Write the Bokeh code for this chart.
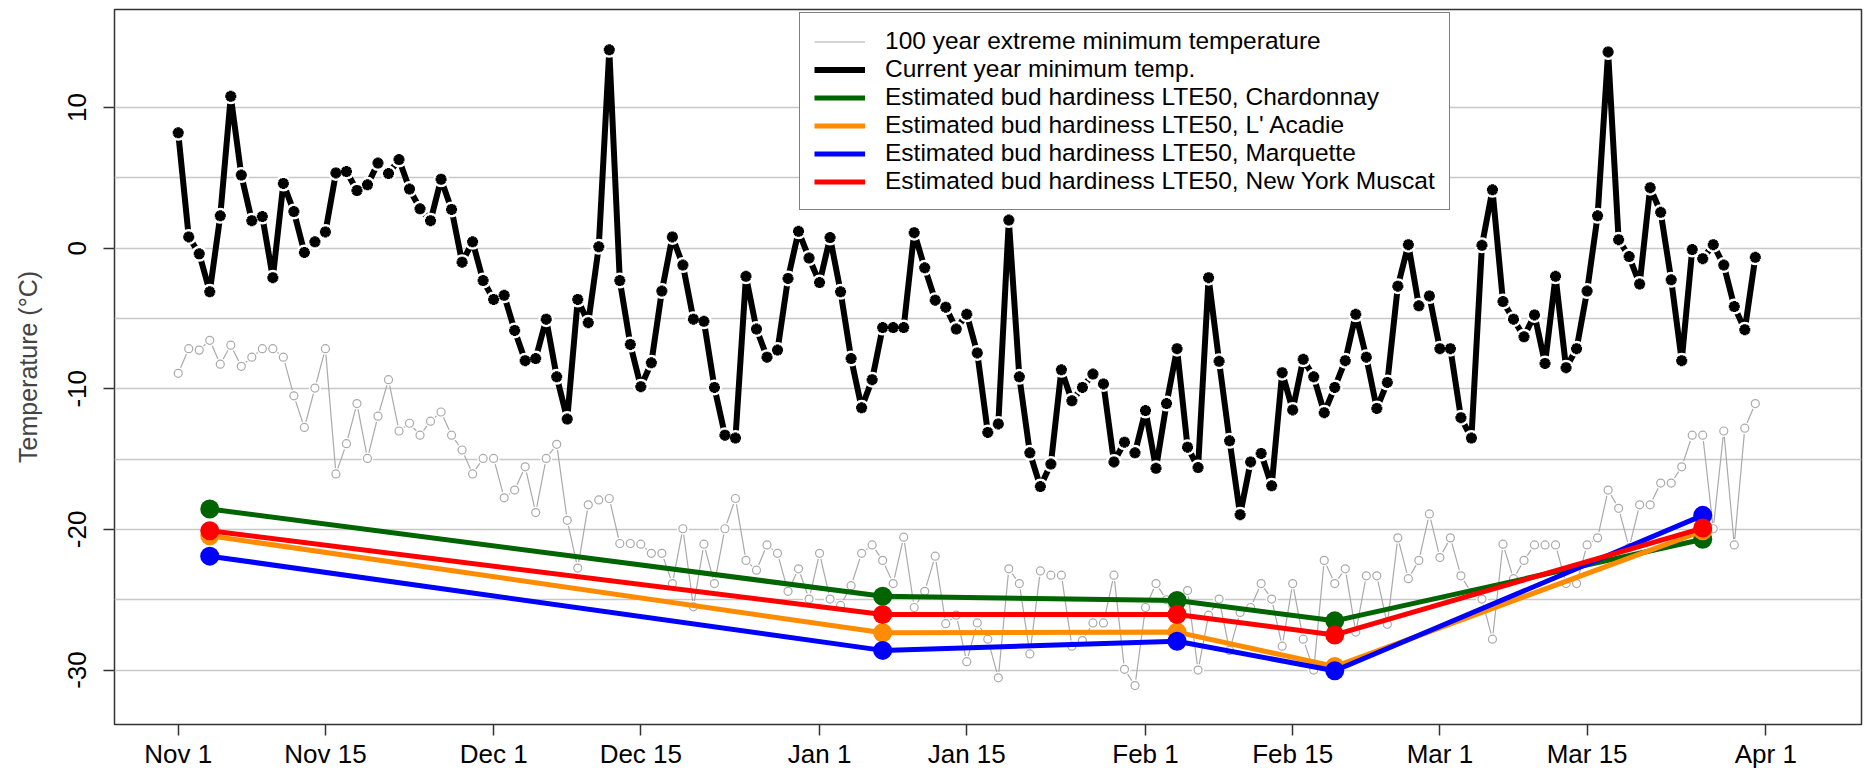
import pandas as pd
from bokeh.plotting import figure
from bokeh.models import Range1d, FixedTicker, Legend, LegendItem
from bokeh.embed import file_html
from bokeh.resources import INLINE

# ---------------- data ----------------
season_start = "2018-11-01"
n_days = 151  # daily observations Nov 1 .. Mar 31

tick_dates = ["2018-11-01", "2018-11-15", "2018-12-01", "2018-12-15", "2019-01-01",
              "2019-01-15", "2019-02-01", "2019-02-15", "2019-03-01", "2019-03-15",
              "2019-04-01"]
tick_labels = ["Nov 1", "Nov 15", "Dec 1", "Dec 15", "Jan 1", "Jan 15", "Feb 1",
               "Feb 15", "Mar 1", "Mar 15", "Apr 1"]
y_ticks = [-30, -20, -10, 0, 10]
y_tick_labels = ["-30", "-20", "-10", "0", "10"]
y_grid = [-30, -25, -20, -15, -10, -5, 0, 5, 10]

current_min = [
    8.2, 0.8, -0.4, -3.1, 2.3, 10.8, 5.2, 1.95, 2.25, -2.1,
    4.6, 2.6, -0.3, 0.45, 1.15, 5.35, 5.45, 4.1, 4.5, 6.05,
    5.3, 6.3, 4.2, 2.8, 1.95, 4.9, 2.75, -1.0, 0.45, -2.3,
    -3.65, -3.35, -5.85, -8.0, -7.85, -5.05, -9.15, -12.15, -3.65, -5.3,
    0.1, 14.1, -2.3, -6.85, -9.85, -8.15, -3.05, 0.8, -1.2, -5.05,
    -5.2, -9.9, -13.3, -13.5, -2.0, -5.75, -7.75, -7.25, -2.15, 1.2,
    -0.7, -2.45, 0.75, -3.1, -7.85, -11.35, -9.35, -5.65, -5.65, -5.65,
    1.1, -1.4, -3.7, -4.2, -5.75, -4.7, -7.45, -13.1, -12.5, 2.0,
    -9.15, -14.55, -16.95, -15.35, -8.65, -10.85, -9.9, -8.95, -9.65, -15.2,
    -13.8, -14.55, -11.55, -15.65, -11.05, -7.15, -14.15, -15.6, -2.1, -8.05,
    -13.7, -18.95, -15.2, -14.6, -16.9, -8.85, -11.5, -7.9, -9.15, -11.7,
    -9.9, -8.0, -4.7, -7.75, -11.4, -9.55, -2.7, 0.25, -4.1, -3.4,
    -7.15, -7.15, -12.05, -13.5, 0.2, 4.15, -3.8, -5.05, -6.3, -4.75,
    -8.2, -2.0, -8.5, -7.15, -3.05, 2.3, 13.95, 0.6, -0.6, -2.55,
    4.3, 2.55, -2.25, -8.0, -0.1, -0.75, 0.25, -1.2, -4.15, -5.8,
    -0.65,
]

extreme_min_100yr = [
    -8.9, -7.15, -7.25, -6.55, -8.25, -6.9, -8.4, -7.75, -7.15, -7.15,
    -7.75, -10.5, -12.75, -9.95, -7.15, -16.05, -13.9, -11.05, -14.95, -11.95,
    -9.35, -13.0, -12.45, -13.3, -12.3, -11.65, -13.3, -14.35, -16.05, -14.95,
    -14.95, -17.75, -17.2, -15.55, -18.8, -14.95, -13.95, -19.35, -22.75, -18.25,
    -17.9, -17.8, -21.0, -21.0, -21.05, -21.7, -21.7, -23.85, -19.95, -25.5,
    -21.05, -23.85, -19.95, -17.8, -22.2, -22.9, -21.1, -21.7, -24.4, -22.8,
    -24.95, -21.7, -24.95, -25.4, -24.0, -21.7, -21.1, -22.2, -23.85, -20.55,
    -25.55, -24.4, -21.9, -26.7, -26.1, -29.4, -26.65, -27.8, -30.55, -22.8,
    -23.85, -28.85, -22.95, -23.25, -23.25, -28.3, -27.9, -26.65, -26.65, -23.25,
    -29.95, -31.1, -25.55, -23.85, -25.0, -27.0, -24.35, -30.0, -26.1, -24.95,
    -28.6, -25.9, -25.55, -23.85, -24.95, -28.3, -23.85, -27.8, -30.0, -22.2,
    -23.85, -22.8, -27.3, -23.3, -23.3, -26.75, -20.6, -23.5, -22.2, -18.9,
    -22.0, -20.6, -23.3, -24.5, -24.95, -27.8, -21.05, -23.5, -22.2, -21.1,
    -21.1, -21.1, -23.85, -23.85, -21.1, -20.6, -17.2, -18.5, -21.3, -18.25,
    -18.25, -16.7, -16.7, -15.55, -13.3, -13.3, -19.95, -13.0, -21.1, -12.8,
    -11.05,
]

hardiness_dates = ["2018-11-04", "2019-01-07", "2019-02-04", "2019-02-19", "2019-03-26"]
lte50_chardonnay = [-18.55, -24.75, -25.05, -26.5, -20.7]
lte50_lacadie = [-20.45, -27.35, -27.3, -29.75, -20.1]
lte50_marquette = [-21.9, -28.6, -27.95, -30.05, -19.0]
lte50_nymuscat = [-20.1, -26.05, -26.05, -27.5, -19.9]

series_labels = [
    "100 year extreme minimum temperature",
    "Current year minimum temp.",
    "Estimated bud hardiness LTE50, Chardonnay",
    "Estimated bud hardiness LTE50, L' Acadie",
    "Estimated bud hardiness LTE50, Marquette",
    "Estimated bud hardiness LTE50, New York Muscat",
]

# ---------------- derived x positions (days since season start) ----------------
t0 = pd.Timestamp(season_start)
day_x = list(range(n_days))
tick_x = [(pd.Timestamp(d) - t0).days for d in tick_dates]
hard_x = [(pd.Timestamp(d) - t0).days for d in hardiness_dates]

FONT = "Liberation Sans"

p = figure(width=1866, height=771, output_backend="svg", toolbar_location=None,
           x_range=Range1d(-6.06, 160.1), y_range=Range1d(-33.87, 16.97),
           min_border_left=114, min_border_right=5, min_border_top=9,
           min_border_bottom=46)

p.background_fill_color = "white"
p.border_fill_color = "white"
p.outline_line_color = "#333333"
p.outline_line_width = 1.5

# axes
p.xaxis.ticker = FixedTicker(ticks=tick_x)
p.xaxis.major_label_overrides = {x: lab for x, lab in zip(tick_x, tick_labels)}
p.yaxis.ticker = FixedTicker(ticks=y_ticks)
p.yaxis.major_label_overrides = {y: lab for y, lab in zip(y_ticks, y_tick_labels)}
p.yaxis.major_label_orientation = "vertical"
p.yaxis.axis_label = "Temperature (\u00b0C)"
p.yaxis.axis_label_text_font = FONT
p.yaxis.axis_label_text_font_size = "25px"
p.yaxis.axis_label_text_font_style = "normal"
p.yaxis.axis_label_standoff = 24
p.yaxis.major_label_standoff = 17
p.xaxis.major_label_standoff = 3
for ax in (p.xaxis, p.yaxis):
    ax.axis_line_color = None
    ax.major_tick_line_color = "#333333"
    ax.major_tick_line_width = 1.5
    ax.major_tick_out = 11
    ax.major_tick_in = 0
    ax.minor_tick_line_color = None
    ax.major_label_text_font = FONT
    ax.major_label_text_font_size = "26px"
    ax.major_label_text_color = "black"

p.xgrid.visible = False
p.ygrid.ticker = FixedTicker(ticks=y_grid)
p.ygrid.grid_line_color = "#c8c8c8"
p.ygrid.grid_line_width = 1.3

# 100-year extreme minimum (thin grey, open circles)
gray = "#aaaaaa"
r_gray = p.line(day_x, extreme_min_100yr, line_color=gray, line_width=1.2)
p.scatter(day_x, extreme_min_100yr, marker="circle", size=12, fill_color="white",
          line_color=None)
p.scatter(day_x, extreme_min_100yr, marker="circle", size=8, fill_color="white",
          line_color=gray, line_width=1.2)

# current year minimum (thick black, gaps around points)
r_black = p.line(day_x, current_min, line_color="black", line_width=6)
p.scatter(day_x, current_min, marker="circle", size=16, fill_color="white",
          line_color=None)
p.scatter(day_x, current_min, marker="circle", size=7, fill_color="black",
          line_color=None)
p.scatter(day_x, current_min, marker="asterisk", size=11, line_color="black",
          line_width=3.5)

# bud hardiness series
hard_series = [
    (lte50_chardonnay, "#006400"),
    (lte50_lacadie, "#ff8c00"),
    (lte50_marquette, "#0000ff"),
    (lte50_nymuscat, "#ff0000"),
]
hard_renderers = []
for vals, col in hard_series:
    r = p.line(hard_x, vals, line_color=col, line_width=5)
    p.scatter(hard_x, vals, marker="circle", size=19, fill_color=col, line_color=None)
    hard_renderers.append(r)

items = [LegendItem(label=series_labels[0], renderers=[r_gray]),
         LegendItem(label=series_labels[1], renderers=[r_black])]
for lab, r in zip(series_labels[2:], hard_renderers):
    items.append(LegendItem(label=lab, renderers=[r]))

legend = Legend(items=items, location=(685, 514), orientation="vertical",
                border_line_color="black", border_line_width=1,
                background_fill_color="white", background_fill_alpha=1.0,
                label_text_font=FONT, label_text_font_size="24.5px",
                label_text_color="black",
                glyph_width=51, glyph_height=27, label_height=27,
                spacing=0, padding=14, margin=0, label_standoff=20)
p.add_layout(legend)

open("out.html", "w").write(file_html(p, INLINE))
